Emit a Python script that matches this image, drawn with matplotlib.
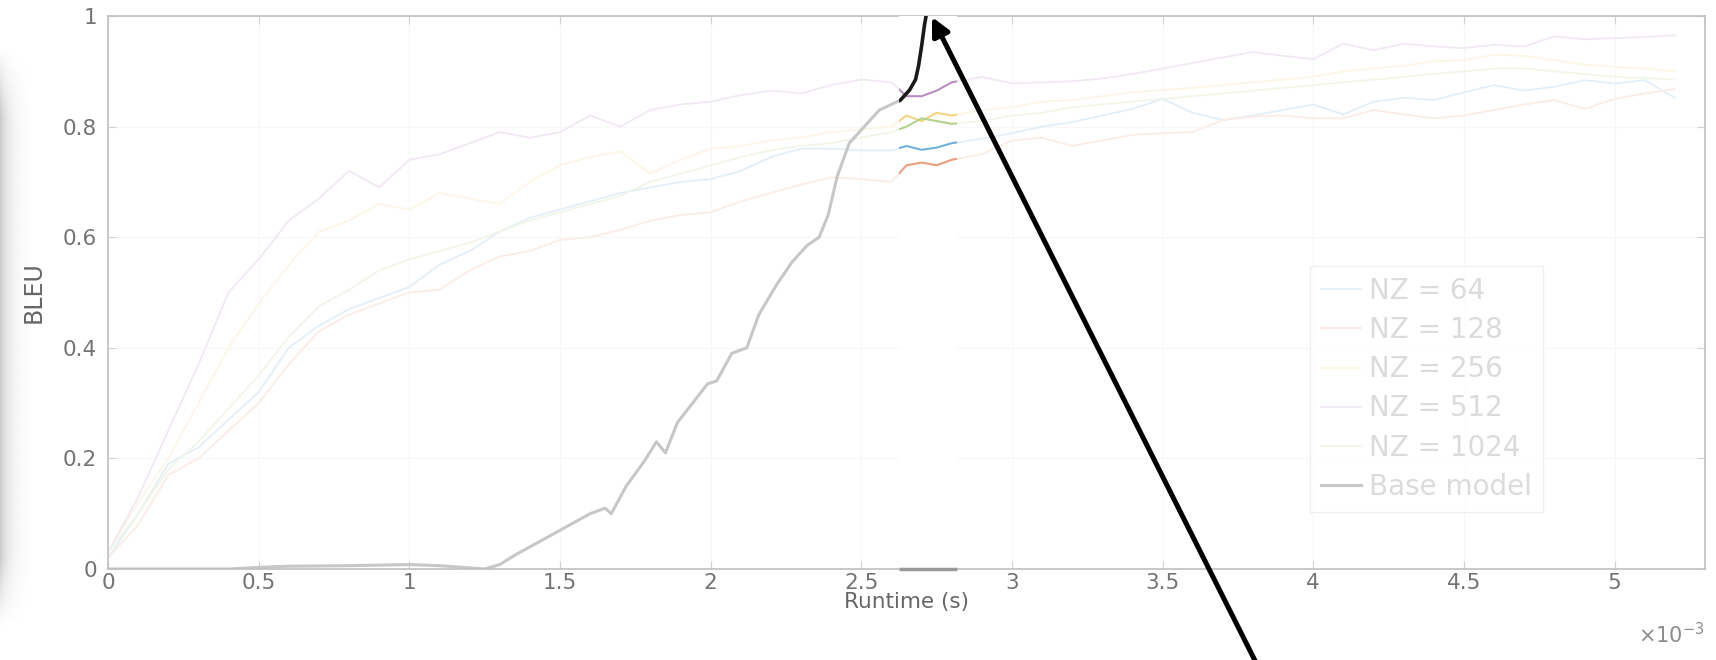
import numpy as np
import matplotlib
matplotlib.use("Agg")
import matplotlib.pyplot as plt
from matplotlib.patches import Rectangle, FancyArrowPatch

plt.rcParams['font.family'] = ['DejaVu Sans']

# runtime in units of 1e-3 s
runtime = [0.0, 0.1, 0.2, 0.3, 0.4, 0.5, 0.6, 0.7, 0.8, 0.9, 1.0, 1.1, 1.2, 1.3, 1.4,
           1.5, 1.6, 1.7, 1.8, 1.9, 2.0, 2.1, 2.2, 2.3, 2.4, 2.5, 2.6,
           2.65, 2.7, 2.75, 2.8,
           2.9, 3.0, 3.1, 3.2, 3.3, 3.4, 3.5, 3.6, 3.7, 3.8, 3.9, 4.0, 4.1, 4.2,
           4.3, 4.4, 4.5, 4.6, 4.7, 4.8, 4.9, 5.0, 5.1, 5.2]

bleu_nz64 = [0.02, 0.10, 0.19, 0.22, 0.27, 0.32, 0.40, 0.44, 0.47, 0.49, 0.51, 0.55, 0.575, 0.61, 0.635,
             0.65, 0.665, 0.68, 0.69, 0.70, 0.705, 0.72, 0.745, 0.76, 0.76, 0.757, 0.757,
             0.765, 0.758, 0.762, 0.77,
             0.778, 0.788, 0.80, 0.808, 0.82, 0.832, 0.85, 0.825, 0.812, 0.82, 0.83, 0.84, 0.822, 0.845,
             0.852, 0.848, 0.862, 0.875, 0.865, 0.872, 0.884, 0.878, 0.884, 0.852]

bleu_nz128 = [0.02, 0.08, 0.17, 0.20, 0.25, 0.30, 0.37, 0.43, 0.46, 0.48, 0.50, 0.505, 0.54, 0.565, 0.575,
              0.595, 0.60, 0.613, 0.63, 0.64, 0.645, 0.665, 0.68, 0.695, 0.708, 0.705, 0.70,
              0.73, 0.735, 0.73, 0.74,
              0.75, 0.775, 0.78, 0.765, 0.775, 0.785, 0.788, 0.79, 0.812, 0.818, 0.82, 0.815, 0.815, 0.83,
              0.822, 0.815, 0.82, 0.83, 0.84, 0.848, 0.832, 0.85, 0.86, 0.868]

bleu_nz256 = [0.03, 0.12, 0.20, 0.30, 0.40, 0.48, 0.55, 0.61, 0.63, 0.66, 0.65, 0.68, 0.67, 0.66, 0.70,
              0.73, 0.745, 0.755, 0.715, 0.74, 0.76, 0.765, 0.775, 0.78, 0.79, 0.795, 0.80,
              0.82, 0.81, 0.825, 0.82,
              0.83, 0.835, 0.845, 0.848, 0.855, 0.862, 0.866, 0.87, 0.875, 0.88, 0.885, 0.89, 0.90, 0.905,
              0.91, 0.918, 0.92, 0.93, 0.928, 0.92, 0.912, 0.908, 0.905, 0.90]

bleu_nz512 = [0.03, 0.13, 0.25, 0.37, 0.50, 0.56, 0.63, 0.67, 0.72, 0.69, 0.74, 0.75, 0.77, 0.79, 0.78,
              0.79, 0.82, 0.80, 0.83, 0.84, 0.845, 0.857, 0.865, 0.86, 0.875, 0.885, 0.88,
              0.855, 0.855, 0.865, 0.88,
              0.89, 0.878, 0.88, 0.882, 0.887, 0.895, 0.905, 0.915, 0.925, 0.935, 0.928, 0.922, 0.95, 0.938,
              0.95, 0.945, 0.942, 0.948, 0.945, 0.963, 0.958, 0.96, 0.962, 0.965]

bleu_nz1024 = [0.03, 0.10, 0.18, 0.23, 0.29, 0.35, 0.42, 0.475, 0.505, 0.54, 0.56, 0.575, 0.59, 0.61, 0.63,
               0.645, 0.66, 0.675, 0.70, 0.715, 0.73, 0.745, 0.757, 0.765, 0.77, 0.78, 0.79,
               0.80, 0.815, 0.81, 0.805,
               0.81, 0.82, 0.825, 0.835, 0.84, 0.845, 0.85, 0.855, 0.86, 0.865, 0.87, 0.875, 0.88, 0.885,
               0.89, 0.895, 0.90, 0.905, 0.905, 0.90, 0.895, 0.89, 0.888, 0.885]

base_runtime = [0.0, 0.2, 0.4, 0.5, 0.6, 0.8, 1.0, 1.1, 1.2, 1.25, 1.3, 1.35, 1.4, 1.45, 1.5, 1.55,
                1.6, 1.65, 1.67, 1.72, 1.78, 1.82, 1.85, 1.89, 1.94, 1.99, 2.02, 2.07, 2.12, 2.16,
                2.22, 2.27, 2.32, 2.36, 2.39, 2.42, 2.46, 2.51, 2.56, 2.6, 2.63, 2.66, 2.68, 2.69,
                2.70, 2.71, 2.715]
bleu_base = [0.0, 0.0, 0.0, 0.003, 0.005, 0.006, 0.008, 0.006, 0.002, 0.0, 0.008, 0.025, 0.04, 0.055,
             0.07, 0.085, 0.10, 0.11, 0.10, 0.15, 0.195, 0.23, 0.21, 0.265, 0.30, 0.335, 0.34, 0.39,
             0.40, 0.46, 0.515, 0.555, 0.585, 0.60, 0.64, 0.71, 0.77, 0.80, 0.83, 0.84, 0.848, 0.866,
             0.885, 0.91, 0.945, 0.985, 1.0]

labels = ['NZ = 64', 'NZ = 128', 'NZ = 256', 'NZ = 512', 'NZ = 1024', 'Base model']
series = [bleu_nz64, bleu_nz128, bleu_nz256, bleu_nz512, bleu_nz1024]
colors = [(0, 0.447, 0.741), (0.85, 0.325, 0.098), (0.929, 0.694, 0.125),
          (0.494, 0.184, 0.556), (0.466, 0.674, 0.188)]

strip_lo, strip_hi = 2.626, 2.819


def fade(c, f):
    return tuple(1 - f * (1 - np.array(c)))


fig = plt.figure(figsize=(17.16, 6.6), dpi=100)

# soft shadow at the left border of the photo
sh = fig.add_axes([0, 0.05, 0.018, 0.88])
col = np.arange(30)
row = np.linspace(0, 1, 200)
env = np.clip(np.minimum(row, 1 - row) / 0.12, 0, 1)
shade = 1 - 0.2 * np.exp(-col / 9.0)[None, :] * env[:, None]
sh.imshow(shade, cmap='gray', vmin=0, vmax=1, aspect='auto', interpolation='bilinear')
sh.axis('off')

ax = fig.add_axes([108 / 1716, 1 - 569 / 660, (1705 - 108) / 1716, (569 - 16) / 660])

# faded curves
for y, c, lab in zip(series, colors, labels):
    ax.plot(runtime, y, color=fade(c, 0.11), lw=1.3, label=lab, zorder=2)
ax.plot(base_runtime, bleu_base, color=fade((0, 0, 0), 0.22), lw=2.2, label=labels[5], zorder=2)

# highlighted strip
clip = Rectangle((strip_lo, 0), strip_hi - strip_lo, 1.0, facecolor='white', edgecolor='none',
                 zorder=3, transform=ax.transData)
ax.add_patch(clip)
for y, c in zip(series, colors):
    ln, = ax.plot(runtime, y, color=fade(c, 0.55), lw=1.5, zorder=4)
    ln.set_clip_path(clip)
ln, = ax.plot(base_runtime, bleu_base, color='#1a1a1a', lw=2.6, zorder=5)
ln.set_clip_path(clip)
ax.plot([strip_lo, strip_hi], [0, 0], color='0.6', lw=2.5, zorder=6, clip_on=False,
        solid_capstyle='butt')

ax.set_xlim(0, 5.3)
ax.set_ylim(0, 1)
ax.set_xticks([0, 0.5, 1, 1.5, 2, 2.5, 3, 3.5, 4, 4.5, 5])
ax.set_xticklabels(['0', '0.5', '1', '1.5', '2', '2.5', '3', '3.5', '4', '4.5', '5'])
ax.set_yticks([0, 0.2, 0.4, 0.6, 0.8, 1])
ax.set_yticklabels(['0', '0.2', '0.4', '0.6', '0.8', '1'])
ax.grid(True, color='0.97', lw=0.8, zorder=0)
ax.tick_params(direction='in', length=6, color='0.82', labelcolor='0.45', labelsize=15.5,
               top=True, right=True)
ax.tick_params(axis='y', pad=8)
ax.tick_params(axis='x', pad=3)
for s in ax.spines.values():
    s.set_color('0.75')
    s.set_linewidth(1.2)
ax.set_xlabel('Runtime (s)', fontsize=15.5, color='0.4', labelpad=-1)
ax.set_ylabel('BLEU', fontsize=17, color='0.4')
ax.yaxis.set_label_coords(-0.039, 0.5)
ax.text(1.0, -0.095, r'$\times10^{-3}$', transform=ax.transAxes, ha='right', va='top',
        fontsize=15, color='0.55')

leg = ax.legend(loc='upper left', bbox_to_anchor=(0.7525, 0.548), fontsize=20,
                frameon=True, fancybox=False, handlelength=1.45, handletextpad=0.3,
                labelspacing=0.4, borderpad=0.4, borderaxespad=0)
leg.get_frame().set_edgecolor('0.93')
leg.get_frame().set_linewidth(1.0)
for t in leg.get_texts():
    t.set_color('0.86')

# black arrow pointing at the base model reaching BLEU 1
fig.add_artist(FancyArrowPatch(
    (1258 / 1716, -0.01), (932 / 1716, 1 - 17 / 660), transform=fig.transFigure,
    arrowstyle='-|>', mutation_scale=27, lw=3.6, color='black',
    shrinkA=0, shrinkB=0, zorder=10))

fig.savefig('out.png', dpi=100)
